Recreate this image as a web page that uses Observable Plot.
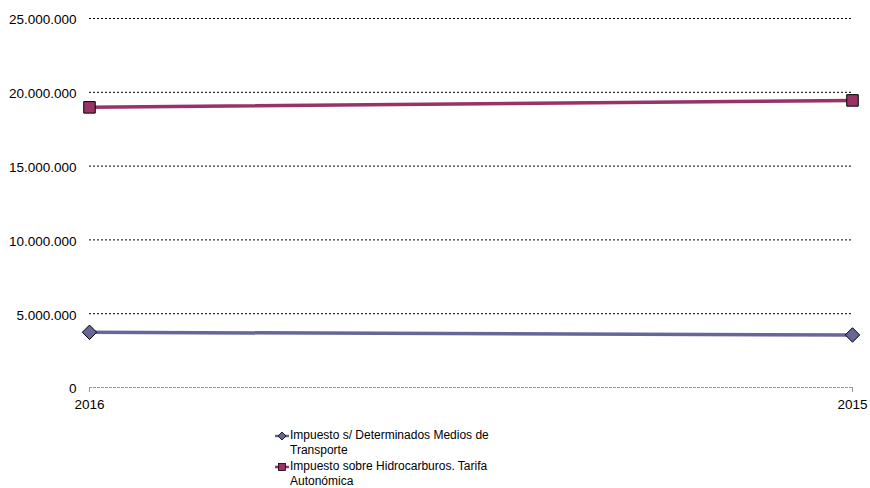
<!DOCTYPE html>
<html>
<head>
<meta charset="utf-8">
<script src="https://cdn.jsdelivr.net/npm/d3@7"></script>
<script src="https://cdn.jsdelivr.net/npm/@observablehq/plot@0.6"></script>
<style>
  body { margin: 0; background: #fff; font-family: "Liberation Sans", Arial, sans-serif; }
  #legend { padding: 5.5px 0 0 275px; font-size: 12px; line-height: 15.5px; color: #000; }
  .item { display: flex; align-items: flex-start; }
  .item svg { flex: none; margin-top: 2px; margin-right: 1px; }
  .item span { width: 230px; }
</style>
</head>
<body>
<div id="chart"></div>
<div id="legend"></div>
<script>
const years = ["2016", "2015"];
const seriesNames = ["Impuesto s/ Determinados Medios de Transporte", "Impuesto sobre Hidrocarburos. Tarifa Autonómica"];
const transporte = [3740000, 3560000];
const hidrocarburos = [18980000, 19450000];
const yTicks = [0, 5000000, 10000000, 15000000, 20000000, 25000000];
const colors = ["#666699", "#993366"];
const symbols = ["diamond2", "square"];

const data = [];
years.forEach((y, i) => {
  data.push({year: y, value: transporte[i], series: seriesNames[0]});
  data.push({year: y, value: hidrocarburos[i], series: seriesNames[1]});
});

const fmt = d3.formatLocale({decimal: ",", thousands: ".", grouping: [3], currency: ["", ""]}).format(",d");

const chart = Plot.plot({
  width: 870,
  height: 422,
  marginLeft: 89,
  marginRight: 18,
  marginTop: 18,
  marginBottom: 35,
  style: {fontFamily: "'Liberation Sans', Arial, sans-serif", fontSize: "13.5px", color: "#000", background: "#fff"},
  x: {type: "point", domain: years, padding: 0},
  y: {domain: [0, 25000000]},
  color: {domain: seriesNames, range: colors},
  symbol: {domain: seriesNames, range: symbols},
  marks: [
    Plot.ruleY(yTicks.filter(d => d > 0), {stroke: "#000", strokeDasharray: "2,2", strokeWidth: 1}),
    Plot.ruleY([0], {stroke: "#999", strokeDasharray: "3,1", strokeWidth: 1}),
    Plot.ruleX(years, {x: d => d, y1: 0, y2: 0, insetBottom: -5, stroke: "#999"}),
    Plot.axisY({ticks: yTicks, tickFormat: fmt, tickSize: 0, tickPadding: 13, fontSize: 13.5, dy: 1.5, label: null}),
    Plot.axisX({tickSize: 0, tickPadding: 12, fontSize: 13.5, label: null}),
    Plot.line(data, {x: "year", y: "value", z: "series", stroke: "series", strokeWidth: 3.5}),
    Plot.dot(data, {x: "year", y: "value", fill: "series", symbol: "series", r: 6.5, stroke: "#000", strokeWidth: 1})
  ]
});
document.getElementById("chart").appendChild(chart);

const legend = document.getElementById("legend");
const lines = [["Impuesto s/ Determinados Medios de", "Transporte"], ["Impuesto sobre Hidrocarburos. Tarifa", "Autonómica"]];
seriesNames.forEach((name, i) => {
  const div = document.createElement("div");
  div.className = "item";
  const marker = i === 0
    ? `<polygon points="7,2 11,6 7,10 3,6" fill="${colors[i]}" stroke="#000" stroke-width="0.8"/>`
    : `<rect x="3.5" y="2.5" width="7" height="7" fill="${colors[i]}" stroke="#000" stroke-width="0.8"/>`;
  div.innerHTML = `<svg width="14" height="12"><line x1="0" y1="6" x2="14" y2="6" stroke="${colors[i]}" stroke-width="2.5"/>${marker}</svg><span>${lines[i][0]}<br>${lines[i][1]}</span>`;
  legend.appendChild(div);
});
</script>
</body>
</html>
